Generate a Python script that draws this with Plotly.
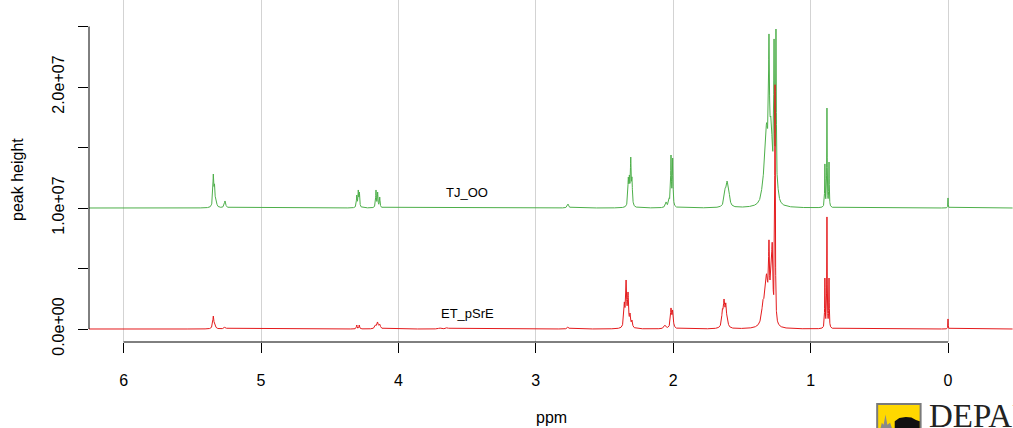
import numpy as np
import plotly.graph_objects as go

# Chemical-shift grid (ppm)
ppm = np.round(np.arange(-0.47, 6.26, 0.0005), 4)

# Peak tables: position (ppm), apex height above baseline, half-width (ppm)
tj_pos = [5.347, 5.338, 5.325, 5.262,
          4.303, 4.292, 4.284, 4.163, 4.151, 4.136,
          2.766,
          2.327, 2.319, 2.309, 2.300,
          2.052, 2.030, 2.016, 2.004,
          1.622, 1.608, 1.595,
          1.368, 1.346, 1.321, 1.303, 1.288, 1.266, 1.252, 1.237,
          0.896, 0.881, 0.866,
          0.000]
tj_height = [2.81e6, 1.98e6, 5.0e5, 5.8e5,
             1.07e6, 1.49e6, 1.32e6, 1.49e6, 1.32e6, 9.1e5,
             3.3e5,
             2.56e6, 2.73e6, 4.21e6, 2.56e6,
             5.0e5, 8.3e5, 4.38e6, 4.13e6,
             1.65e6, 2.23e6, 1.49e6,
             6.6e5, 2.56e6, 7.0e6, 1.438e7, 7.52e6, 1.397e7, 1.479e7, 1.65e6,
             3.64e6, 8.26e6, 3.80e6,
             8.3e5]
tj_width = [0.004, 0.004, 0.006, 0.006,
            0.003, 0.003, 0.003, 0.003, 0.003, 0.003,
            0.006,
            0.0035, 0.0035, 0.0035, 0.0035,
            0.006, 0.005, 0.003, 0.003,
            0.008, 0.008, 0.008,
            0.012, 0.012, 0.012, 0.004, 0.012, 0.003, 0.003, 0.008,
            0.002, 0.002, 0.002,
            0.0015]

et_pos = [5.347, 5.335, 5.262,
          4.303, 4.285, 4.168, 4.152, 4.136,
          3.700, 3.645,
          2.766,
          2.356, 2.343, 2.329, 2.314, 2.300,
          2.060, 2.016, 2.004,
          1.642, 1.630, 1.617, 1.605,
          1.368, 1.346, 1.321, 1.303, 1.288, 1.279, 1.259, 1.240,
          0.896, 0.881, 0.866,
          0.000]
et_height = [1.07e6, 4.1e5, 1.7e5,
             3.3e5, 3.3e5, 3.3e5, 5.8e5, 4.1e5,
             8e4, 1.2e5,
             1.7e5,
             2.23e6, 4.05e6, 3.06e6, 1.32e6, 7.4e5,
             3.3e5, 1.74e6, 1.57e6,
             1.65e6, 2.48e6, 2.15e6, 8.3e5,
             5.0e5, 2.40e6, 4.55e6, 7.36e6, 6.28e6, 7.11e6, 2.017e7, 4.1e5,
             4.21e6, 9.26e6, 4.21e6,
             8.3e5]
et_width = [0.005, 0.005, 0.008,
            0.003, 0.003, 0.006, 0.006, 0.006,
            0.010, 0.010,
            0.006,
            0.0045, 0.0045, 0.0045, 0.0045, 0.0045,
            0.008, 0.005, 0.005,
            0.006, 0.006, 0.006, 0.006,
            0.012, 0.012, 0.012, 0.004, 0.006, 0.005, 0.0025, 0.006,
            0.002, 0.002, 0.002,
            0.0015]

tj_offset = 1.0e7
labels = ["TJ_OO", "ET_pSrE"]
colors = ["#4DAF4A", "#E41A1C"]

x_ticks = [6, 5, 4, 3, 2, 1, 0]
y_ticks = [0, 5e6, 1e7, 1.5e7, 2e7, 2.5e7]
y_ticktext = ["0.0e+00", "", "1.0e+07", "", "2.0e+07", ""]


def lorentz(x, c, g):
    return g * g / ((x - c) ** 2 + g * g)


def spectrum(pos, height, width):
    pos = np.asarray(pos)
    height = np.asarray(height)
    width = np.asarray(width)
    # amplitudes chosen so the summed curve reaches each tabulated height
    a = lorentz(pos[:, None], pos[None, :], width[None, :])
    amp = np.clip(np.linalg.solve(a, height), 0, None)
    return (amp[None, :] * lorentz(ppm[:, None], pos[None, :], width[None, :])).sum(axis=1)


tj = spectrum(tj_pos, tj_height, tj_width) + tj_offset
et = spectrum(et_pos, et_height, et_width)

fig = go.Figure()
fig.add_trace(go.Scatter(x=ppm, y=tj, mode="lines", name=labels[0],
                         line=dict(color=colors[0], width=1)))
fig.add_trace(go.Scatter(x=ppm, y=et, mode="lines", name=labels[1],
                         line=dict(color=colors[1], width=1)))

font = dict(family="Liberation Sans, Arial, sans-serif", color="black")

fig.update_layout(
    width=1013, height=428,
    margin=dict(l=89, r=0, t=0, b=86),
    paper_bgcolor="white", plot_bgcolor="white",
    showlegend=False,
    font=dict(**font, size=16),
    xaxis=dict(
        range=[6.2518, -0.473],
        tickmode="array", tickvals=x_ticks, ticktext=[str(t) for t in x_ticks],
        ticks="outside", ticklen=10, tickwidth=1, tickcolor="black",
        ticklabelstandoff=14,
        showgrid=True, gridcolor="#D3D3D3", gridwidth=1,
        zeroline=False, showline=False,
        tickfont=dict(**font, size=16),
    ),
    yaxis=dict(
        range=[-1.0744e6, 2.719e7],
        tickmode="array", tickvals=y_ticks, ticktext=y_ticktext,
        tickangle=-90,
        ticks="outside", ticklen=10, tickwidth=1, tickcolor="black",
        ticklabelstandoff=8,
        showgrid=False, zeroline=False, showline=False,
        tickfont=dict(**font, size=16),
    ),
)

# axis lines spanning the tick range only
fig.add_shape(type="line", xref="x", yref="paper", x0=x_ticks[0], x1=x_ticks[-1],
              y0=0, y1=0, line=dict(color="black", width=1))
fig.add_shape(type="line", xref="paper", yref="y", x0=0, x1=0,
              y0=y_ticks[0], y1=y_ticks[-1], line=dict(color="black", width=1))

# sample labels
fig.add_annotation(x=3.50, y=1.132e7, text=labels[0], showarrow=False,
                   xanchor="center", yanchor="middle", font=dict(**font, size=13))
fig.add_annotation(x=3.50, y=1.32e6, text=labels[1], showarrow=False,
                   xanchor="center", yanchor="middle", font=dict(**font, size=13))

# axis titles
fig.add_annotation(xref="paper", yref="paper", x=0.501, y=-0.2193, text="ppm",
                   xanchor="center", yanchor="middle",
                   showarrow=False, font=dict(**font, size=16))
fig.add_annotation(xref="paper", yref="paper", x=-0.0768, y=0.474, text="peak height",
                   xanchor="center", yanchor="middle",
                   textangle=-90, showarrow=False, font=dict(**font, size=16))

# logo in the lower-right corner
fig.add_shape(type="rect", xref="paper", yref="paper", x0=0.853, x1=0.900,
              y0=-0.26, y1=-0.181, line=dict(color="#7a7a7a", width=2),
              fillcolor="#FFD800")
fig.add_shape(type="path", xref="paper", yref="paper",
              path="M 0.872 -0.26 L 0.872 -0.232 L 0.877 -0.222 L 0.884 -0.219 "
                   "L 0.890 -0.221 L 0.895 -0.228 L 0.899 -0.232 L 0.899 -0.26 Z",
              fillcolor="#111111", line=dict(width=0))
fig.add_shape(type="path", xref="paper", yref="paper",
              path="M 0.856 -0.26 L 0.858 -0.236 L 0.860 -0.242 L 0.862 -0.212 "
                   "L 0.864 -0.242 L 0.867 -0.236 L 0.870 -0.26 Z",
              fillcolor="#8a8a8a", line=dict(width=0))
fig.add_annotation(xref="paper", yref="paper", x=0.907, y=-0.158, text="DEPAU",
                   xanchor="left", yanchor="top", showarrow=False,
                   font=dict(family="Liberation Serif, Times New Roman, serif",
                             size=33, color="#222222"))

fig.write_html("out.html")
